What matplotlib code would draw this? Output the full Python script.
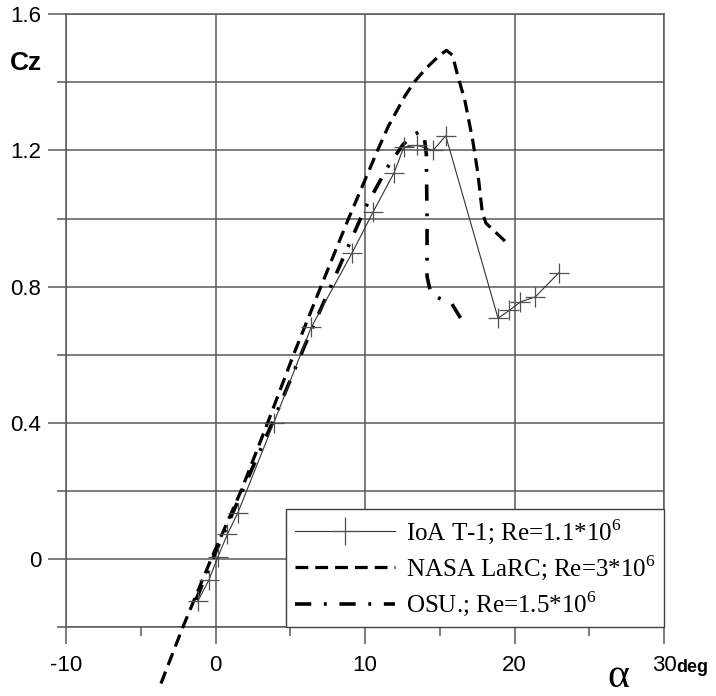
import matplotlib
matplotlib.use('Agg')
import matplotlib.pyplot as plt
from matplotlib.ticker import FixedLocator, FuncFormatter

# ---- data ----
ioa_alpha = [-1.2, -0.45, 0.15, 0.8, 1.5, 3.9, 6.4, 9.15, 10.55, 11.95, 12.6, 13.5,
             14.55, 15.4, 18.9, 19.65, 20.4, 21.4, 22.95]
ioa_cz = [-0.125, -0.063, 0.005, 0.073, 0.136, 0.40, 0.68, 0.90, 1.02, 1.135, 1.21, 1.215,
          1.20, 1.243, 0.707, 0.73, 0.755, 0.77, 0.84]

nasa_alpha = [-3.65, -2.18, -0.29, 1.71, 3.49, 5.22, 7.05, 8.9, 10.84, 11.55, 12.67, 13.33,
              14.1, 15.0, 15.45, 15.85, 16.2, 16.67, 17.2, 17.55, 17.85, 18.1, 19.5]
nasa_cz = [-0.366, -0.2, 0.0, 0.2, 0.4, 0.6, 0.8, 1.0, 1.2, 1.27, 1.36, 1.403,
           1.442, 1.48, 1.494, 1.48, 1.42, 1.349, 1.231, 1.133, 1.016, 0.986, 0.928]

osu_alpha = [-1.3, 0.0, 2.0, 4.0, 6.0, 8.0, 10.0, 11.5, 12.5, 13.2, 13.7, 13.95,
             14.1, 14.15, 14.15, 14.4, 15.0, 15.8, 16.4]
osu_cz = [-0.12, 0.02, 0.22, 0.42, 0.63, 0.83, 1.03, 1.15, 1.215, 1.245, 1.256, 1.245,
          1.19, 1.0, 0.83, 0.78, 0.765, 0.75, 0.707]

labels = ['IoA T-1; Re=1.1*10$^{\\mathregular{6}}$',
          'NASA LaRC; Re=3*10$^{\\mathregular{6}}$',
          'OSU.; Re=1.5*10$^{\\mathregular{6}}$']

x_major = [-10, 0, 10, 20, 30]
x_minor = [-5, 5, 15, 25]
y_major = [0, 0.4, 0.8, 1.2, 1.6]
y_minor = [-0.2, 0.2, 0.6, 1.0, 1.4]

plt.rcParams['font.family'] = ['Liberation Sans', 'DejaVu Sans']

W, H = 716, 696
fig = plt.figure(figsize=(W / 100, H / 100), dpi=100)
ax = fig.add_axes([66 / W, 1 - 627 / H, 598 / W, (627 - 14.3) / H])

gc = '#5a5a5a'
ax.set_xlim(-10, 30)
ax.set_ylim(-0.2, 1.6)
ax.xaxis.set_major_locator(FixedLocator(x_major))
ax.xaxis.set_minor_locator(FixedLocator(x_minor))
ax.yaxis.set_major_locator(FixedLocator(y_major))
ax.yaxis.set_minor_locator(FixedLocator(y_minor))
fmt = FuncFormatter(lambda v, p: '%g' % v)
ax.xaxis.set_major_formatter(fmt)
ax.yaxis.set_major_formatter(fmt)
ax.tick_params(which='major', axis='x', direction='out', length=12.5, width=1.1,
               color=gc, labelsize=16, pad=8)
ax.tick_params(which='minor', axis='x', direction='out', length=6.5, width=1.1, color=gc)
ax.tick_params(which='major', axis='y', direction='out', length=13, width=1.1,
               color=gc, labelsize=16, pad=5)
ax.tick_params(which='minor', axis='y', direction='out', length=6.5, width=1.1, color=gc)
ax.grid(which='major', axis='x', color=gc, lw=1.1)
ax.grid(which='both', axis='y', color=gc, lw=1.1)
ax.set_axisbelow(True)
for s in ax.spines.values():
    s.set_color(gc)
    s.set_linewidth(1.1)

l1, = ax.plot(ioa_alpha, ioa_cz, color='#333333', lw=0.8, marker='+', ms=14,
              mew=0.9, mec='#505050', label=labels[0], zorder=4)
l2, = ax.plot(nasa_alpha, nasa_cz, color='black', lw=2.3, ls=(0, (4, 2.2)),
              label=labels[1], clip_on=False, zorder=3)
l3, = ax.plot(osu_alpha, osu_cz, color='black', lw=2.6, ls=(0, (4.5, 3.5, 0.8, 3.5)),
              label=labels[2], zorder=3)

leg = ax.legend(handles=[l1, l2, l3], loc='lower right', bbox_to_anchor=(1, 0),
                borderaxespad=0, fancybox=False, framealpha=1, edgecolor='#404040',
                prop={'family': 'Liberation Serif', 'size': 18}, handlelength=4.0,
                handletextpad=0.44, labelspacing=0.3, borderpad=0.34, markerscale=1.4)
leg.get_frame().set_linewidth(1.0)
leg.set_zorder(5)

fig.text(26 / W, 1 - 63 / H, 'Cz', fontsize=19, fontweight='bold', ha='center', va='center')
fig.text(618 / W, 1 - 677 / H, 'α', fontsize=30, family='Liberation Serif',
         ha='center', va='center')
fig.text(676 / W, 1 - 672 / H, 'deg', fontsize=13, fontweight='bold', ha='left',
         va='baseline')

fig.savefig('out.png', dpi=100)
